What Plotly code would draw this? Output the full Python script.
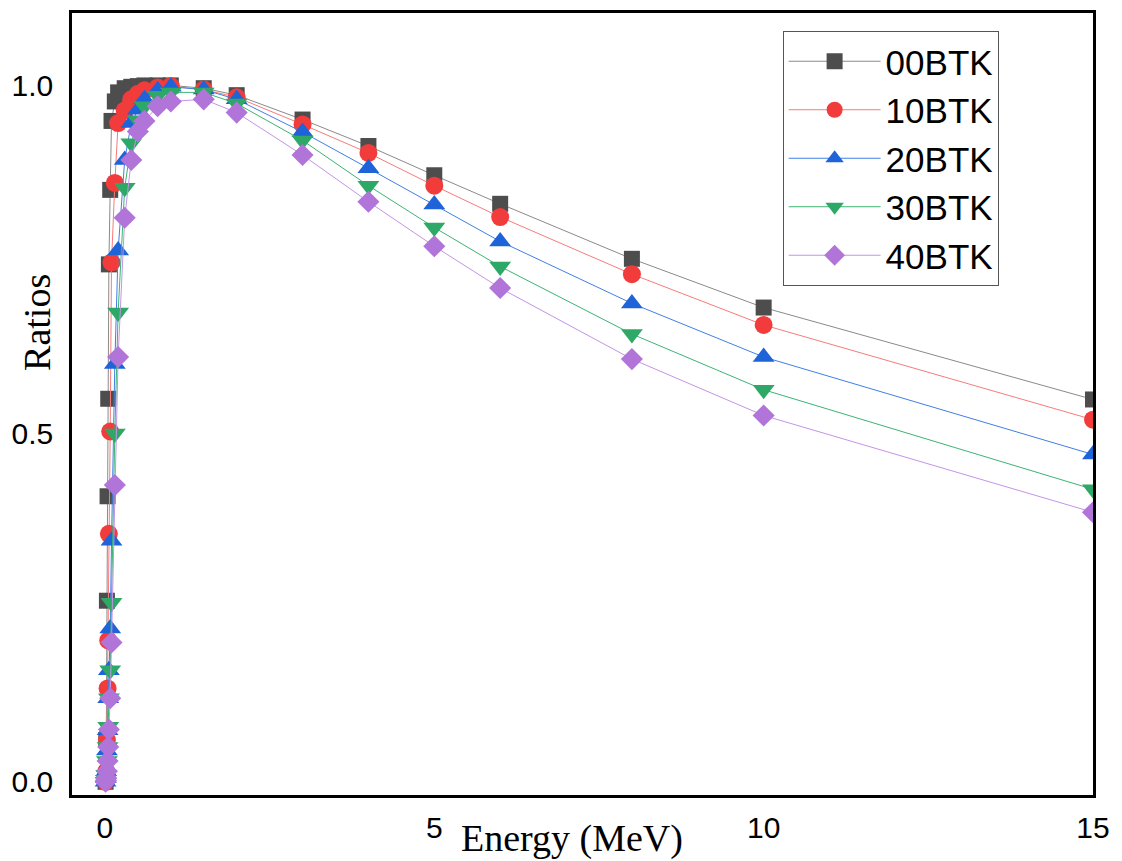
import plotly.graph_objects as go

energy = [0.01, 0.015, 0.02, 0.03, 0.04, 0.05, 0.06, 0.08, 0.1, 0.15, 0.2, 0.3, 0.4, 0.5,
          0.6, 0.8, 1.0, 1.5, 2, 3, 4, 5, 6, 8, 10, 15]

btk00 = [0.0, 0.005, 0.06, 0.26, 0.41, 0.55, 0.743, 0.85, 0.949, 0.977, 0.99, 0.996, 0.998, 0.999,
         1.0, 1.0, 1.0, 0.996, 0.986, 0.951, 0.913, 0.871, 0.830, 0.751, 0.681, 0.549]
btk10 = [0.0, 0.005, 0.015, 0.06, 0.134, 0.203, 0.356, 0.503, 0.746, 0.86, 0.946, 0.964, 0.98, 0.988,
         0.993, 0.997, 0.999, 0.994, 0.983, 0.944, 0.903, 0.856, 0.811, 0.729, 0.656, 0.52]
btk20 = [0.0, 0.005, 0.015, 0.045, 0.074, 0.12, 0.16, 0.22, 0.346, 0.6, 0.763, 0.893, 0.946, 0.965,
         0.98, 0.993, 0.998, 0.994, 0.98, 0.933, 0.881, 0.829, 0.776, 0.687, 0.61, 0.47]
btk30 = [0.0, 0.003, 0.01, 0.03, 0.05, 0.079, 0.12, 0.16, 0.257, 0.5, 0.674, 0.853, 0.917, 0.95,
         0.97, 0.985, 0.99, 0.99, 0.974, 0.921, 0.856, 0.796, 0.74, 0.643, 0.563, 0.42]
btk40 = [0.0, 0.002, 0.005, 0.015, 0.03, 0.05, 0.075, 0.12, 0.2, 0.426, 0.61, 0.81, 0.893, 0.934,
         0.949, 0.97, 0.977, 0.98, 0.961, 0.9, 0.833, 0.769, 0.709, 0.607, 0.526, 0.387]

names = ["00BTK", "10BTK", "20BTK", "30BTK", "40BTK"]
series = [btk00, btk10, btk20, btk30, btk40]
marker_colors = ["#4d4d4d", "#f23c3c", "#1f63d9", "#2ea866", "#b174d9"]
line_colors = ["#8a8a8a", "#f77b7b", "#3f7fe6", "#3db374", "#c494e6"]
symbols = ["square", "circle", "triangle-up", "triangle-down", "diamond"]
sizes = [16, 18, 19, 19, 17]

fig = go.Figure()
for n, ys, mc, lc, sym, sz in zip(names, series, marker_colors, line_colors, symbols, sizes):
    fig.add_trace(go.Scatter(
        x=energy, y=ys, name=n, mode="lines+markers",
        line=dict(color=lc, width=1),
        marker=dict(symbol=sym, size=sz, color=mc, line=dict(width=0)),
    ))

fig.update_layout(
    width=1122, height=861,
    margin=dict(l=72, r=29, t=10, b=66),
    paper_bgcolor="white", plot_bgcolor="white",
    showlegend=True,
    legend=dict(
        x=0.696, y=0.977, xanchor="left", yanchor="top",
        bordercolor="#555555", borderwidth=1, bgcolor="white",
        font=dict(family="Liberation Sans, Arial", size=35, color="black"),
        itemwidth=92, tracegroupgap=0,
    ),
    annotations=[
        dict(text="Energy (MeV)", x=0.4897, y=-0.056, xref="paper", yref="paper",
             showarrow=False, xanchor="center", yanchor="middle",
             font=dict(family="Liberation Serif, Times New Roman", size=38, color="black")),
        dict(text="Ratios", x=-0.035, y=0.604, xref="paper", yref="paper",
             showarrow=False, xanchor="center", yanchor="middle", textangle=-90,
             font=dict(family="Liberation Serif, Times New Roman", size=38, color="black")),
    ],
)
fig.update_xaxes(
    range=[-0.5, 15.0], tickvals=[0, 5, 10, 15], ticks="", showgrid=False, zeroline=False,
    showline=True, mirror=True, linecolor="black", linewidth=2.5,
    tickfont=dict(family="Liberation Sans, Arial", size=30, color="black"),
    ticklabelstandoff=4,
)
fig.update_yaxes(
    range=[-0.019, 1.104], tickvals=[0, 0.5, 1.0], tickformat=".1f", ticks="", showgrid=False,
    zeroline=False, showline=True, mirror=True, linecolor="black", linewidth=2.5,
    tickfont=dict(family="Liberation Sans, Arial", size=30, color="black"),
    ticklabelstandoff=10,
)

fig.write_html("out.html", config={"displayModeBar": False},
               post_script="document.body.style.margin='0';document.body.style.overflow='hidden';")
